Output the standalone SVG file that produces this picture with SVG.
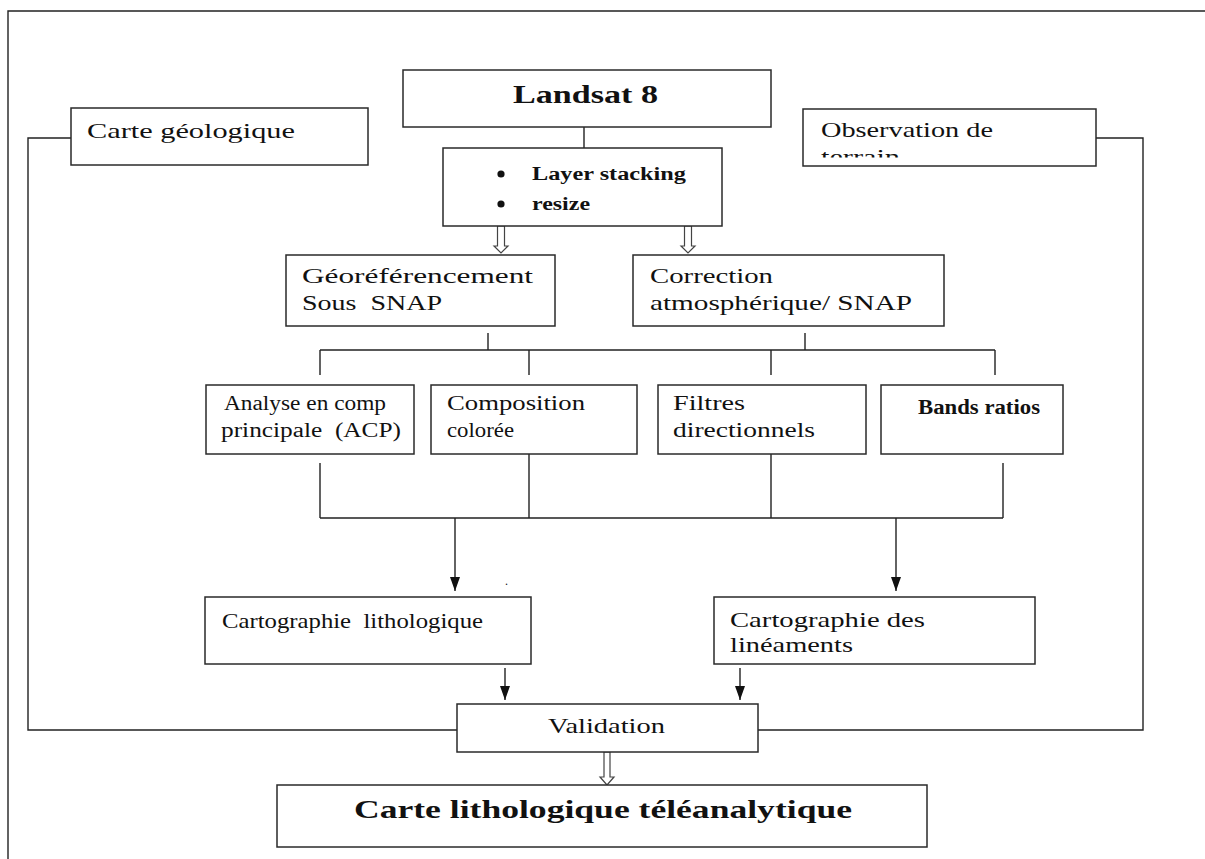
<svg xmlns="http://www.w3.org/2000/svg" width="1205" height="859" viewBox="0 0 1205 859">
<style>
.box{fill:#fff;stroke:#2a2a2a;stroke-width:1.5}
.ln{fill:none;stroke:#222;stroke-width:1.4}
.t{font-family:"Liberation Serif","DejaVu Serif",serif;fill:#111}
.b{font-weight:bold}
.hol{fill:#fff;stroke:#444;stroke-width:1.2}
</style>
<defs>
<marker id="ah" viewBox="0 0 14 10" refX="14" refY="5" markerWidth="14" markerHeight="10" markerUnits="userSpaceOnUse" orient="auto">
<path d="M0 0 L14 5 L0 10 Z" fill="#111"/>
</marker>
<clipPath id="obsclip"><rect x="803" y="109" width="293" height="48.5"/></clipPath>
</defs>
<rect width="1205" height="859" fill="#fff"/>
<path class="ln" d="M8 859 V11 H1205" stroke-width="1.6"/>

<g id="connectors">
<path class="ln" d="M584 127 V148"/>
<path class="ln" d="M71 138 H28 V730 H457"/>
<path class="ln" d="M1096 138 H1143 V730 H758"/>
<path class="ln" d="M488 333 V350 M805 333 V350 M320 350 H995 M320 350 V375 M529 350 V375 M771 350 V375 M995 350 V375"/>
<path class="ln" d="M320 463 V518 M529 454 V518 M771 454 V518 M1003 463 V518 M320 518 H1003"/>
<line class="ln" x1="455" y1="518" x2="455" y2="591" marker-end="url(#ah)"/>
<line class="ln" x1="896" y1="518" x2="896" y2="591" marker-end="url(#ah)"/>
<line class="ln" x1="505" y1="668" x2="505" y2="700" marker-end="url(#ah)"/>
<line class="ln" x1="740" y1="668" x2="740" y2="700" marker-end="url(#ah)"/>
<path class="hol" d="M497.5 226 H504.5 V246 H508 L501 253 L494 246 H497.5 Z"/>
<path class="hol" d="M684.5 226 H691.5 V246 H695 L688 253 L681 246 H684.5 Z"/>
<path class="hol" d="M604 752 H610 V777 H614 L607 785 L600 777 H604 Z"/>
</g>

<g id="landsat">
<rect class="box" x="403" y="70" width="368" height="57"/>
<text class="t b" x="513" y="103" font-size="26" textLength="145" lengthAdjust="spacingAndGlyphs">Landsat 8</text>
</g>
<g id="carte-geologique">
<rect class="box" x="71" y="108" width="297" height="57"/>
<text class="t" x="87" y="138" font-size="22" textLength="208" lengthAdjust="spacingAndGlyphs">Carte géologique</text>
</g>
<g id="observation">
<rect class="box" x="803" y="109" width="293" height="57"/>
<text class="t" x="821" y="137" font-size="22" textLength="172" lengthAdjust="spacingAndGlyphs">Observation de</text>
<text class="t" x="821" y="164" font-size="22" textLength="79" lengthAdjust="spacingAndGlyphs" clip-path="url(#obsclip)">terrain</text>
</g>
<g id="layer-stacking">
<rect class="box" x="443" y="148" width="279" height="78"/>
<circle cx="501" cy="174" r="3.6" fill="#111"/>
<circle cx="501" cy="204" r="3.6" fill="#111"/>
<text class="t b" x="532" y="180" font-size="18" textLength="154" lengthAdjust="spacingAndGlyphs">Layer stacking</text>
<text class="t b" x="532" y="210" font-size="18" textLength="58" lengthAdjust="spacingAndGlyphs">resize</text>
</g>
<g id="georef">
<rect class="box" x="286" y="255" width="269" height="71"/>
<text class="t" x="302" y="283" font-size="22" textLength="231" lengthAdjust="spacingAndGlyphs">Géoréférencement</text>
<text class="t" x="302" y="310" font-size="22" textLength="140" lengthAdjust="spacingAndGlyphs" xml:space="preserve">Sous  SNAP</text>
</g>
<g id="correction">
<rect class="box" x="633" y="255" width="311" height="71"/>
<text class="t" x="650" y="283" font-size="22" textLength="123" lengthAdjust="spacingAndGlyphs">Correction</text>
<text class="t" x="650" y="310" font-size="22" textLength="262" lengthAdjust="spacingAndGlyphs">atmosphérique/ SNAP</text>
</g>
<g id="acp">
<rect class="box" x="206" y="385" width="208" height="69"/>
<text class="t" x="224" y="410" font-size="20" textLength="162" lengthAdjust="spacingAndGlyphs">Analyse en comp</text>
<text class="t" x="221" y="437" font-size="20" textLength="180" lengthAdjust="spacingAndGlyphs" xml:space="preserve">principale  (ACP)</text>
</g>
<g id="composition">
<rect class="box" x="431" y="385" width="206" height="69"/>
<text class="t" x="447" y="410" font-size="20" textLength="138" lengthAdjust="spacingAndGlyphs">Composition</text>
<text class="t" x="447" y="437" font-size="20" textLength="67" lengthAdjust="spacingAndGlyphs">colorée</text>
</g>
<g id="filtres">
<rect class="box" x="658" y="385" width="208" height="69"/>
<text class="t" x="673" y="410" font-size="20" textLength="72" lengthAdjust="spacingAndGlyphs">Filtres</text>
<text class="t" x="673" y="437" font-size="20" textLength="142" lengthAdjust="spacingAndGlyphs">directionnels</text>
</g>
<g id="bands">
<rect class="box" x="881" y="385" width="182" height="69"/>
<text class="t b" x="918" y="414" font-size="20" textLength="122" lengthAdjust="spacingAndGlyphs">Bands ratios</text>
</g>
<text class="t" x="505" y="585" font-size="12">.</text>
<g id="carto-litho">
<rect class="box" x="205" y="597" width="326" height="67"/>
<text class="t" x="222" y="628" font-size="21" textLength="261" lengthAdjust="spacingAndGlyphs" xml:space="preserve">Cartographie  lithologique</text>
</g>
<g id="carto-lineaments">
<rect class="box" x="714" y="597" width="321" height="67"/>
<text class="t" x="730" y="627" font-size="21" textLength="195" lengthAdjust="spacingAndGlyphs">Cartographie des</text>
<text class="t" x="730" y="652" font-size="21" textLength="123" lengthAdjust="spacingAndGlyphs">linéaments</text>
</g>
<g id="validation">
<rect class="box" x="457" y="704" width="301" height="48"/>
<text class="t" x="548" y="733" font-size="21" textLength="117" lengthAdjust="spacingAndGlyphs">Validation</text>
</g>
<g id="carte-lithologique">
<rect class="box" x="277" y="785" width="650" height="62"/>
<text class="t b" x="354" y="818" font-size="26" textLength="498" lengthAdjust="spacingAndGlyphs">Carte lithologique téléanalytique</text>
</g>
</svg>
